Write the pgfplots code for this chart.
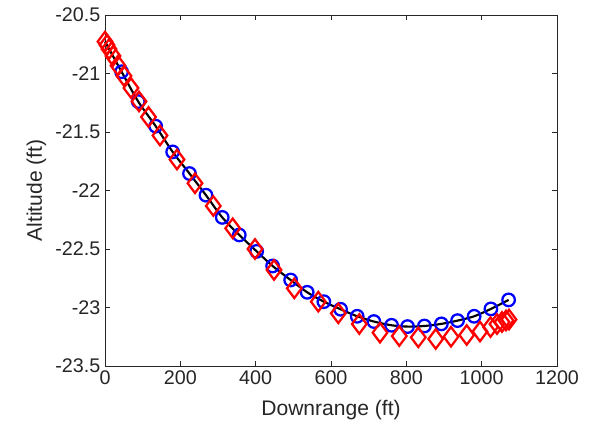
\documentclass[border=0pt]{standalone}
\usepackage{fontspec}
\setmainfont{Liberation Sans}
\usepackage{pgfplots}
\pgfplotsset{compat=1.18}
\definecolor{axgray}{rgb}{0.15,0.15,0.15}
\begin{document}
\begin{tikzpicture}
\begin{axis}[
  scale only axis,
  width=339pt, height=263.25pt,
  xmin=0, xmax=1200, ymin=-23.5, ymax=-20.5,
  xtick={0,200,400,600,800,1000,1200},
  ytick={-23.5,-23,-22.5,-22,-21.5,-21,-20.5},
  yticklabels={-23.5,-23,-22.5,-22,-21.5,-21,-20.5},
  /pgf/number format/assume math mode=true,
  /pgf/number format/1000 sep={},
  tick align=inside,
  major tick length=4pt,
  axis line style={axgray, line width=0.5pt},
  tick style={axgray, line width=0.5pt},
  ticklabel style={font=\fontsize{14.8}{17}\selectfont, text=axgray},
  label style={font=\fontsize{15.8}{18}\selectfont, text=axgray},
  xlabel={Downrange (ft)},
  ylabel={Altitude (ft)},
  xlabel style={yshift=-5pt},
  ylabel style={yshift=0pt},
  clip=false,
]
\addplot[black, line width=1.6pt, smooth, tension=0.5] coordinates {
(0,-20.727) (44,-20.985) (88.3,-21.24) (134.5,-21.45) (179.6,-21.67)
(224.3,-21.855) (268,-22.04) (311.3,-22.23) (356.5,-22.38) (402.7,-22.52)
(445,-22.645) (492.9,-22.765) (536.8,-22.87) (581,-22.95) (625.4,-23.015)
(669.5,-23.075) (713.8,-23.12) (760.8,-23.152) (803.2,-23.163) (848,-23.158)
(893,-23.14) (936,-23.112) (980,-23.075) (1024.5,-23.012) (1071.5,-22.935)
};
\addplot[only marks, blue, mark=o, mark size=4.7pt, line width=1.7pt] coordinates {
(44,-20.985) (88.3,-21.24) (134.5,-21.45) (179.6,-21.67)
(224.3,-21.855) (268,-22.04) (311.3,-22.23) (356.5,-22.38) (402.7,-22.52)
(445,-22.645) (492.9,-22.765) (536.8,-22.87) (581,-22.95) (625.4,-23.015)
(669.5,-23.075) (713.8,-23.12) (760.8,-23.152) (803.2,-23.163) (848,-23.158)
(893,-23.14) (936,-23.112) (980,-23.075) (1024.5,-23.012) (1071.5,-22.935)
};
\addplot[only marks, red, mark=diamond, mark size=7.3pt, line width=1.7pt] coordinates {
(0,-20.727) (5.3,-20.756) (10.6,-20.791) (21.2,-20.850) (34.5,-20.932)
(50.4,-21.021) (69.0,-21.124) (90.3,-21.239) (115.5,-21.372) (146.0,-21.530)
(191.1,-21.735) (238.9,-21.938) (287.5,-22.132) (339.0,-22.323) (398.2,-22.500)
(448.7,-22.679) (502.6,-22.836) (566.3,-22.950) (619.4,-23.050) (675.1,-23.141)
(730.1,-23.215) (781.3,-23.244) (831.8,-23.255) (878.0,-23.269) (918.6,-23.250)
(960.3,-23.235) (995.6,-23.205) (1023.5,-23.167) (1040.7,-23.141) (1054.0,-23.124)
(1064.6,-23.111) (1072.6,-23.103)
};
\end{axis}
\pgfresetboundingbox
\path (-78.75pt,-57.75pt) rectangle (364.5pt,274.5pt);
\end{tikzpicture}
\end{document}
